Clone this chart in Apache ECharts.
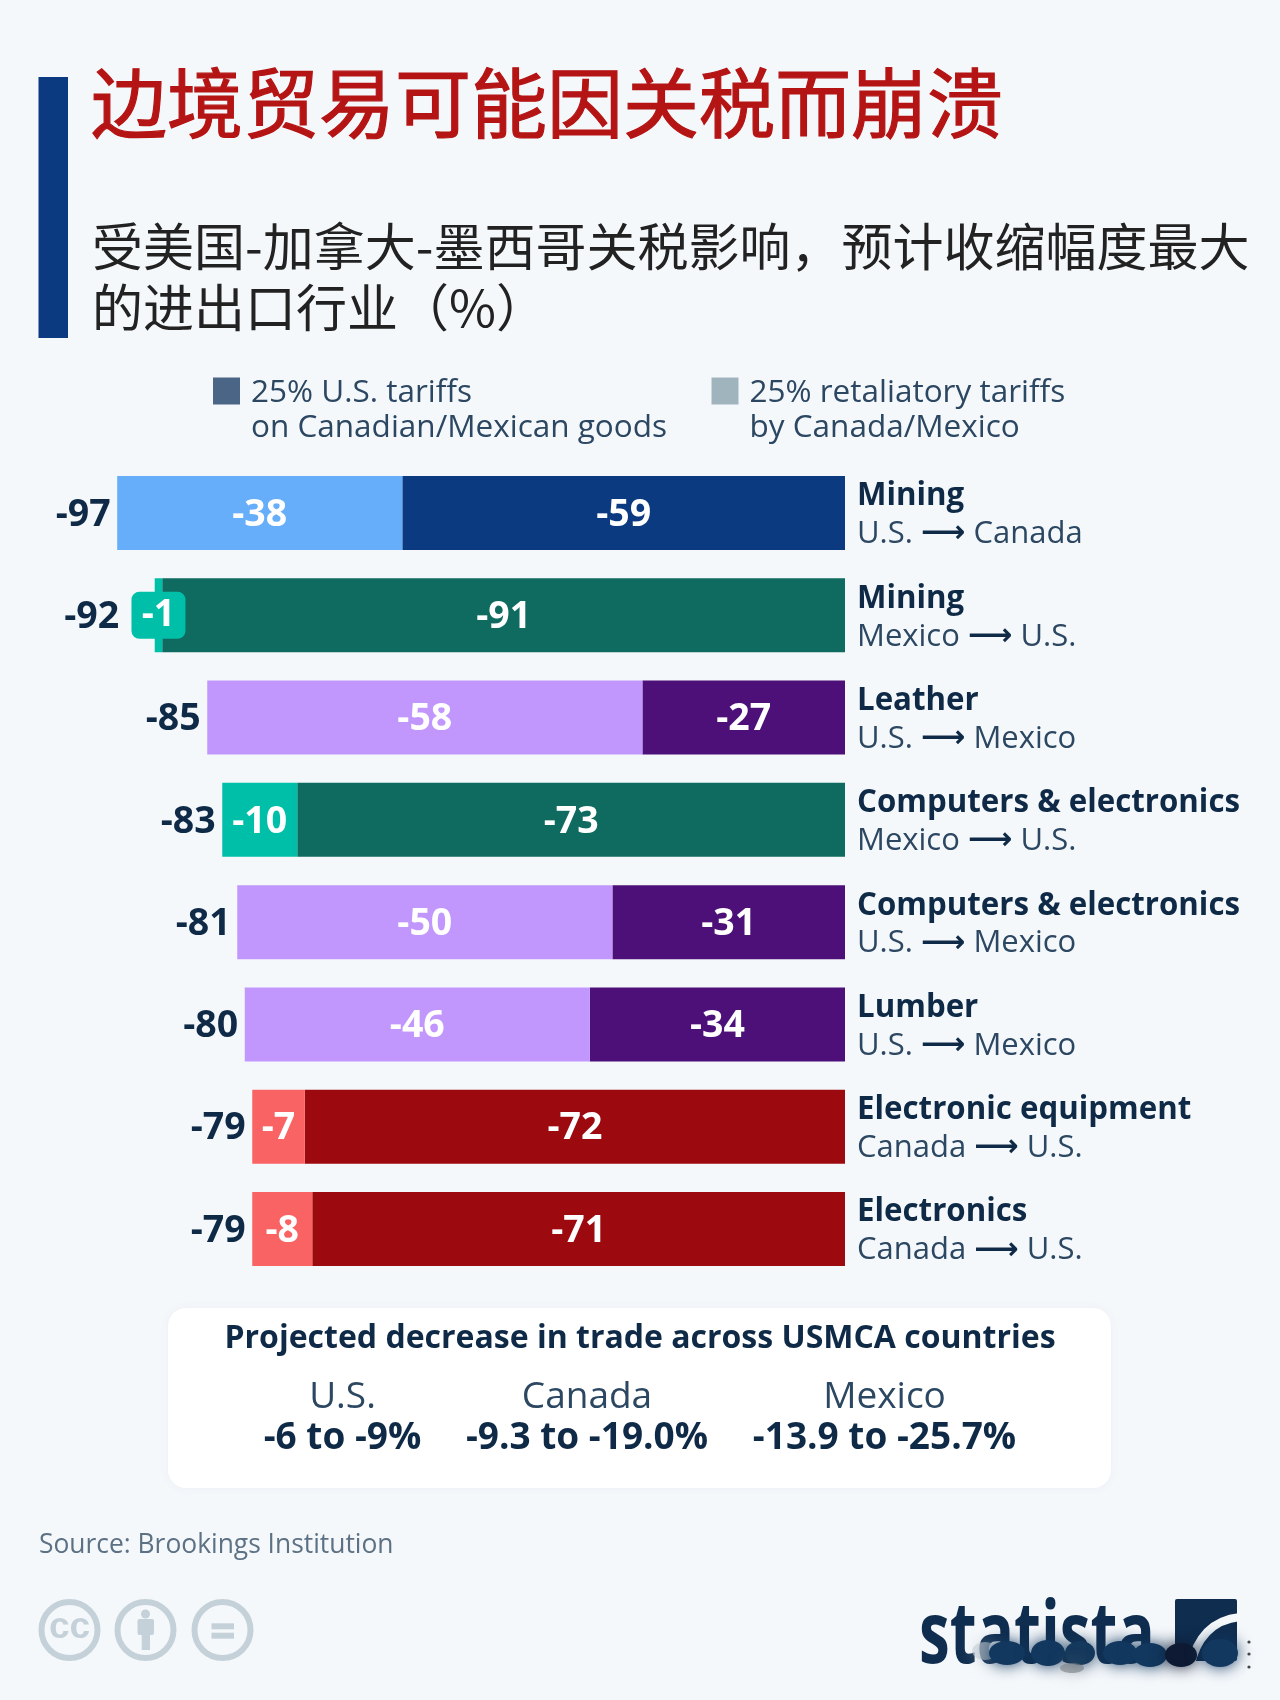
<!DOCTYPE html>
<html><head><meta charset="utf-8">
<style>html,body{margin:0;padding:0;background:#f5f8fb}#c{width:1280px;height:1700px}</style>
<script src="https://cdn.jsdelivr.net/npm/echarts@6/dist/echarts.min.js"></script>
</head><body><div id="c"></div>
<script>
const titleText = '边境贸易可能因关税而崩溃';
const subtitleText = '受美国-加拿大-墨西哥关税影响，预计收缩幅度最大\n的进出口行业（%）';
const sourceText = 'Source: Brookings Institution';
const usSeriesName = '25% U.S. tariffs\non Canadian/Mexican goods';
const retaliatorySeriesName = '25% retaliatory tariffs\nby Canada/Mexico';
const sectors = ['Mining','Mining','Leather','Computers & electronics','Computers & electronics','Lumber','Electronic equipment','Electronics'];
const routes = ['U.S. ⟶ Canada','Mexico ⟶ U.S.','U.S. ⟶ Mexico','Mexico ⟶ U.S.','U.S. ⟶ Mexico','U.S. ⟶ Mexico','Canada ⟶ U.S.','Canada ⟶ U.S.'];
const usTariffs = [-59,-91,-27,-73,-31,-34,-72,-71];
const retaliatory = [-38,-1,-58,-10,-50,-46,-7,-8];
const totals = [-97,-92,-85,-83,-81,-80,-79,-79];
const darkColors = ['#0b3a80','#0f6b5f','#4c1078','#0f6b5f','#4c1078','#4c1078','#9c0a10','#9c0a10'];
const lightColors = ['#66aefa','#00bfa9','#c197fd','#00bfa9','#c197fd','#c197fd','#f96363','#f96363'];
const boxTitle = 'Projected decrease in trade across USMCA countries';
const boxCountries = ['U.S.','Canada','Mexico'];
const boxRanges = ['-6 to -9%','-9.3 to -19.0%','-13.9 to -25.7%'];

const LATIN = '"Open Sans", sans-serif';
const CJK = '"Noto Sans CJK SC", sans-serif';
const NAVY = '#0f2a47';
const MUTED = '#2c4762';
const BG = '#f5f8fb';

const chart = echarts.init(document.getElementById('c'), null, {renderer:'canvas', width:1280, height:1700});

const barLabel = {show:true, position:'inside', offset:[0,2], color:'#fff', fontFamily:LATIN, fontWeight:700, fontSize:37.5};

function txt(text,x,y,size,weight,fill,align){
  return {type:'text', z:5, style:{text,x,y,fontFamily:LATIN,fontSize:size,fontWeight:weight,fill,align:align||'center',verticalAlign:'middle'}};
}
const boxCols = [342.5,587,884.5];
const graphics = [
  {type:'rect', shape:{x:38.5,y:77,width:29.5,height:261}, style:{fill:'#0b3a80'}},
  {type:'rect', z:1, shape:{x:168,y:1308,width:943,height:180,r:18}, style:{fill:'#ffffff',shadowBlur:10,shadowColor:'rgba(30,60,90,0.05)'}},
  txt(boxTitle,640,1339,32,700,NAVY)
];
boxCountries.forEach((c,i)=>{
  graphics.push(txt(c,boxCols[i],1397,37,400,MUTED));
  graphics.push(txt(boxRanges[i],boxCols[i],1438,37,700,NAVY));
});
// licence icons
[69.5,145.5,222.5].forEach(cx=>{
  graphics.push({type:'circle',shape:{cx,cy:1630,r:28},style:{fill:'none',stroke:'#c5d1d9',lineWidth:6}});
});
graphics.push({type:'text',style:{text:'cc',x:69.5,y:1628,fontFamily:'"Liberation Sans",sans-serif',fontSize:37,fontWeight:700,fill:'#c5d1d9',align:'center',verticalAlign:'middle'}});
graphics.push({type:'circle',shape:{cx:145.5,cy:1614,r:4.5},style:{fill:'#c5d1d9'}});
graphics.push({type:'rect',shape:{x:137.5,y:1619,width:16.5,height:16,r:2},style:{fill:'#c5d1d9'}});
graphics.push({type:'rect',shape:{x:141.7,y:1630,width:8.3,height:20},style:{fill:'#c5d1d9'}});
graphics.push({type:'rect',shape:{x:211.5,y:1623.3,width:22.5,height:6},style:{fill:'#c5d1d9'}});
graphics.push({type:'rect',shape:{x:211.5,y:1632.7,width:22.5,height:6},style:{fill:'#c5d1d9'}});
// logo
graphics.push({type:'text',z:6,x:919,y:1638,scaleX:0.72,style:{text:'statista',x:0,y:0,fontFamily:LATIN,fontSize:86,fontWeight:700,fill:'#0f2d4f',align:'left',verticalAlign:'middle'}});
graphics.push({type:'rect',z:6,shape:{x:1175,y:1599,width:62,height:62,r:2},style:{fill:'#0f2d4f'}});
graphics.push({type:'bezierCurve',z:6,shape:{x1:1190,y1:1668,cpx1:1196,cpy1:1638,cpx2:1212,cpy2:1620,x2:1240,y2:1617},style:{fill:'none',stroke:BG,lineWidth:8}});
// blurred smudge over the logo
[[985,1651,13,9,'rgba(200,208,214,0.6)'],[1007,1653,18,12,'#12385f'],[1048,1653,17,13,'#12385f'],[1080,1653,15,12,'#15395c'],[1120,1653,17,12,'#12385f'],[1150,1655,17,12,'#12385f'],[1181,1655,16,12,'#0e1a33'],[1220,1653,18,14,'#12385f'],[1072,1668,12,5,'rgba(120,125,130,0.6)']].forEach(b=>{
  graphics.push({type:'ellipse',z:7,shape:{cx:b[0],cy:b[1],rx:b[2],ry:b[3]},style:{fill:b[4],shadowBlur:16,shadowColor:b[4]}});
});
[1642,1654,1667].forEach(y=>graphics.push({type:'circle',z:7,shape:{cx:1249,cy:y,r:1.6},style:{fill:'#444'}}));

const legendText = {
  padding:[0,0,0,6],
  rich:{
    s:{fontSize:10,lineHeight:40},
    t:{fontFamily:LATIN,fontSize:31.5,color:MUTED,lineHeight:35}
  }
};
const legendFmt = n => '{s| }\n' + n.split('\n').map(l=>`{t|${l}}`).join('\n');

chart.setOption({
  animation:false,
  backgroundColor:BG,
  title:[
    {text:titleText,left:86,top:60,textStyle:{fontFamily:CJK,fontSize:76,fontWeight:400,color:'#b51414',textBorderColor:'#b51414',textBorderWidth:1.2}},
    {text:subtitleText,left:87,top:211,textStyle:{fontFamily:CJK,fontSize:51,fontWeight:400,color:'#222',lineHeight:61}},
    {text:sourceText,left:34,top:1527,textStyle:{fontFamily:LATIN,fontSize:26.4,fontWeight:400,color:'#5c7184'}}
  ],
  legend:[
    {left:213,top:351,selectedMode:false,icon:'rect',itemWidth:27,itemHeight:27,padding:0,formatter:legendFmt,
     data:[{name:usSeriesName,itemStyle:{color:'#4a6585'}}],textStyle:legendText},
    {left:711.5,top:351,selectedMode:false,icon:'rect',itemWidth:27,itemHeight:27,padding:0,formatter:legendFmt,
     data:[{name:retaliatorySeriesName,itemStyle:{color:'#a0b4be'}}],textStyle:legendText}
  ],
  grid:{left:117.2,top:461.8,width:727.8,height:818.4,containLabel:false},
  xAxis:{type:'value',min:-97,max:0,show:false,splitLine:{show:false}},
  yAxis:{type:'category',inverse:true,position:'right',data:sectors,
    axisLine:{show:false},axisTick:{show:false},splitLine:{show:false},
    axisLabel:{show:true,interval:0,margin:12,align:'left',
      formatter:(v,i)=>{
        const r = routes[i].split('⟶');
        return `{n|${sectors[i]}}\n{r|${r[0]}}{a|⟶}{r|${r[1]}}`;
      },
      rich:{
        n:{fontFamily:LATIN,fontWeight:700,fontSize:31.25,color:NAVY,lineHeight:41,padding:[10,0,0,0]},
        r:{fontFamily:LATIN,fontWeight:400,fontSize:31,color:MUTED,lineHeight:43,padding:[2,0,0,0]},
        a:{fontFamily:'"DejaVu Sans",sans-serif',fontWeight:700,fontSize:31,color:NAVY,lineHeight:43,padding:[2,0,0,0]}
      }}},
  graphic:graphics,
  series:[
    {name:usSeriesName,type:'bar',stack:'t',barWidth:74,itemStyle:{color:'#4a6585'},label:barLabel,
     data:usTariffs.map((v,i)=>({value:v,itemStyle:{color:darkColors[i]}}))},
    {name:retaliatorySeriesName,type:'bar',stack:'t',barWidth:74,itemStyle:{color:'#a0b4be'},label:barLabel,
     data:retaliatory.map((v,i)=>{
       const d={value:v,itemStyle:{color:lightColors[i]}};
       if(v===-1) d.label={backgroundColor:lightColors[i],borderRadius:8,width:54,height:47,lineHeight:47,align:'center',offset:[0,0]};
       return d;
     })},
    {name:'Total',type:'scatter',symbolSize:1,itemStyle:{color:'transparent',opacity:1},silent:true,z:10,
     label:{show:true,position:'left',distance:6,offset:[0,2],color:NAVY,fontFamily:LATIN,fontWeight:700,fontSize:37.5,formatter:p=>String(p.value[0])},
     data:totals.map((v,i)=>{
       const d={value:[v,i]};
       if(retaliatory[i]===-1) d.label={offset:[-29,2]};
       return d;
     })}
  ]
});
</script></body></html>
